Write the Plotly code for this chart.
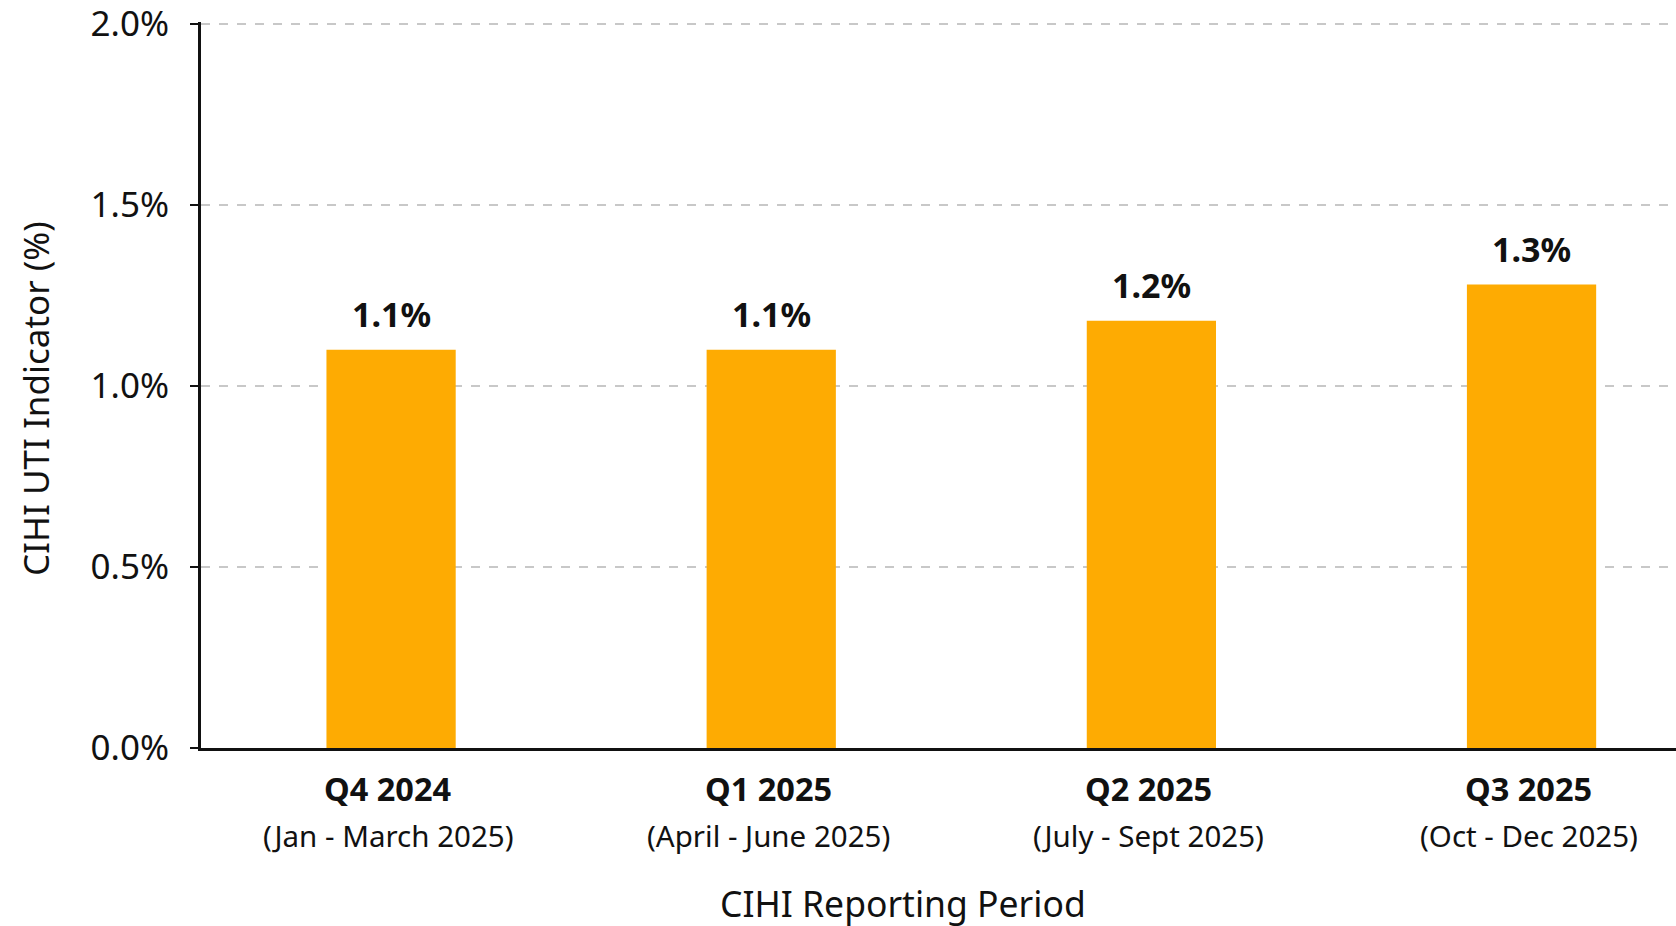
import plotly.graph_objects as go

periods = ["Q4 2024", "Q1 2025", "Q2 2025", "Q3 2025"]
ranges = ["(Jan - March 2025)", "(April - June 2025)", "(July - Sept 2025)", "(Oct - Dec 2025)"]
values = [1.10, 1.10, 1.18, 1.28]
labels = ["1.1%", "1.1%", "1.2%", "1.3%"]
y_ticks = [0.0, 0.5, 1.0, 1.5, 2.0]
y_ticktext = ["0.0%", "0.5%", "1.0%", "1.5%", "2.0%"]

FONT = "Noto Sans"
BAR = "#FEAB02"

fig = go.Figure()
fig.add_trace(go.Bar(
    x=list(range(len(periods))), y=values, width=0.34,
    marker=dict(color=BAR, line=dict(width=0)),
    hoverinfo="skip",
))

annotations = []
for i, (v, lab) in enumerate(zip(values, labels)):
    annotations.append(dict(x=i, y=v, xref="x", yref="y", text=f"<b>{lab}</b>",
                            showarrow=False, yanchor="middle", yshift=36,
                            font=dict(family=FONT, size=34, color="#111")))
for i, (p, r) in enumerate(zip(periods, ranges)):
    annotations.append(dict(x=i, y=0, xref="x", yref="paper", text=f"<b>{p}</b>",
                            showarrow=False, yanchor="middle", yshift=-40, xshift=-3,
                            font=dict(family=FONT, size=32.5, color="#111")))
    annotations.append(dict(x=i, y=0, xref="x", yref="paper", text=r,
                            showarrow=False, yanchor="middle", yshift=-87, xshift=-3,
                            font=dict(family=FONT, size=29.5, color="#111")))
annotations.append(dict(x=0.476, y=0, xref="paper", yref="paper", text="CIHI Reporting Period",
                        showarrow=False, yanchor="middle", yshift=-155,
                        font=dict(family=FONT, size=35.5, color="#111")))
annotations.append(dict(x=0, y=0.5, xref="paper", yref="paper", text="CIHI UTI Indicator (%)",
                        showarrow=False, textangle=-90, xanchor="center", yanchor="middle",
                        xshift=-166, yshift=-14,
                        font=dict(family=FONT, size=35, color="#111")))

fig.update_layout(
    width=1676, height=926,
    margin=dict(l=201, r=0, t=22, b=178),
    paper_bgcolor="white", plot_bgcolor="white",
    showlegend=False,
    annotations=annotations,
    xaxis=dict(range=[-0.5, 3.38], showticklabels=False, showgrid=False, zeroline=False,
               showline=True, linecolor="#111", linewidth=3, ticks=""),
    yaxis=dict(range=[0, 2.005], tickvals=y_ticks, ticktext=y_ticktext,
               showgrid=True, gridcolor="#c8c8c8", griddash="dash", gridwidth=2,
               zeroline=False, showline=True, linecolor="#111", linewidth=3,
               ticks="outside", ticklen=8, tickwidth=2, tickcolor="#111",
               ticklabelstandoff=14, ticklabeloverflow="allow",
               tickfont=dict(family=FONT, size=35, color="#111")),
)

fig.write_html("out.html")
